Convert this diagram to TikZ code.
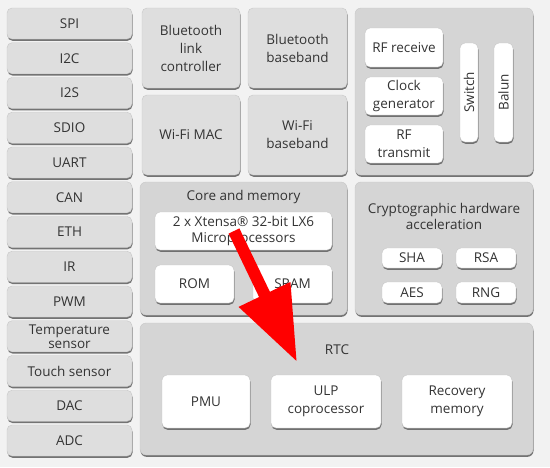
\documentclass[tikz,border=0pt]{standalone}
\usepackage{fontspec}
\setmainfont{Open Sans}
\usetikzlibrary{shadows,arrows.meta}
\definecolor{bgc}{HTML}{F2F2F2}
\definecolor{boxc}{HTML}{DEDEDE}
\definecolor{contc}{HTML}{D5D5D5}
\definecolor{txtc}{HTML}{333333}
\definecolor{shc}{HTML}{666666}
\tikzset{
  base/.style={rounded corners=5pt, inner sep=0pt, align=center, text=txtc,
    font=\fontsize{13.5}{18}\selectfont, draw=black!22, line width=0.4pt,
    drop shadow={shadow xshift=0.5pt, shadow yshift=-1.8pt, opacity=0.9, fill=shc}},
  graybox/.style={base, fill=boxc},
  container/.style={base, fill=contc, rounded corners=6pt},
  whitebox/.style={base, fill=white},
  lbl/.style={inner sep=0pt, align=center, text=txtc, font=\fontsize{13.5}{16}\selectfont},
}
\begin{document}
\begin{tikzpicture}[x=1pt,y=-1pt]
\fill[bgc] (0,0) rectangle (550,467);
\useasboundingbox (0,0) rectangle (550,467);
% left peripheral column
\foreach \t [count=\i from 0] in {SPI,I2C,I2S,SDIO,UART,CAN,ETH,IR,PWM,{Temperature\\[-4pt]sensor},Touch sensor,DAC,ADC}{
  \node[graybox, minimum width=125pt, minimum height=31pt] (p\i) at (69.5,{23.5+\i*34.75}) {\t};
}
% wireless blocks
\node[graybox, minimum width=98pt, minimum height=80pt] (btlc) at (191,48) {Bluetooth\\link\\controller};
\node[graybox, minimum width=99pt, minimum height=80pt] (btbb) at (297.5,48) {Bluetooth\\baseband};
\node[graybox, minimum width=98pt, minimum height=80pt] (wmac) at (191,135) {Wi-Fi MAC};
\node[graybox, minimum width=99pt, minimum height=80pt] (wbb) at (297.5,135) {Wi-Fi\\baseband};
% RF container
\node[container, minimum width=178pt, minimum height=167pt] (rf) at (444,91.5) {};
\node[whitebox, minimum width=78pt, minimum height=39pt] (rfrx) at (404,47.5) {RF receive};
\node[whitebox, minimum width=78pt, minimum height=38pt] (clk) at (404,96) {Clock\\generator};
\node[whitebox, minimum width=78pt, minimum height=38pt] (rftx) at (404,144) {RF\\transmit};
\node[whitebox, rotate=90, minimum width=99pt, minimum height=18pt] (sw) at (469,92.5) {Switch};
\node[whitebox, rotate=90, minimum width=99pt, minimum height=19pt] (balun) at (503.5,92.5) {Balun};
% core and memory
\node[container, minimum width=207pt, minimum height=133pt] (core) at (243.5,248.5) {};
\node[lbl] (coret) at (243.5,197) {Core and memory};
\node[whitebox, minimum width=177pt, minimum height=38pt] (cpu) at (243.5,231) {2 x Xtensa® 32-bit LX6\\[-2pt]Microprocessors};
\node[whitebox, minimum width=79pt, minimum height=38pt] (rom) at (194.5,284) {ROM};
\node[whitebox, minimum width=79pt, minimum height=38pt] (sram) at (292.5,284) {SRAM};
% crypto
\node[container, minimum width=178pt, minimum height=133pt] (crypto) at (444,248.5) {};
\node[lbl] (cryptot) at (444,216) {Cryptographic hardware\\acceleration};
\node[whitebox, minimum width=60pt, minimum height=20pt] (sha) at (412,258) {SHA};
\node[whitebox, minimum width=60pt, minimum height=20pt] (rsa) at (486,258) {RSA};
\node[whitebox, minimum width=60pt, minimum height=21pt] (aes) at (412,292.5) {AES};
\node[whitebox, minimum width=60pt, minimum height=21pt] (rng) at (486,292.5) {RNG};
% RTC
\node[container, minimum width=393pt, minimum height=132pt] (rtc) at (336.5,389) {};
\node[lbl] (rtct) at (337,350) {RTC};
\node[whitebox, minimum width=88pt, minimum height=53pt] (pmu) at (206,401.5) {PMU};
\node[whitebox, minimum width=110pt, minimum height=53pt] (ulp) at (326,401.5) {ULP\\coprocessor};
\node[whitebox, minimum width=110pt, minimum height=53pt] (rec) at (457,401.5) {Recovery\\memory};
% red arrow
\coordinate (arrtail) at (234,231);
\coordinate (arrtip) at (297,362);
\draw[red, line width=12pt, -{Triangle[length=75pt, width=54pt]}] (arrtail) -- (arrtip);
\end{tikzpicture}
\end{document}
